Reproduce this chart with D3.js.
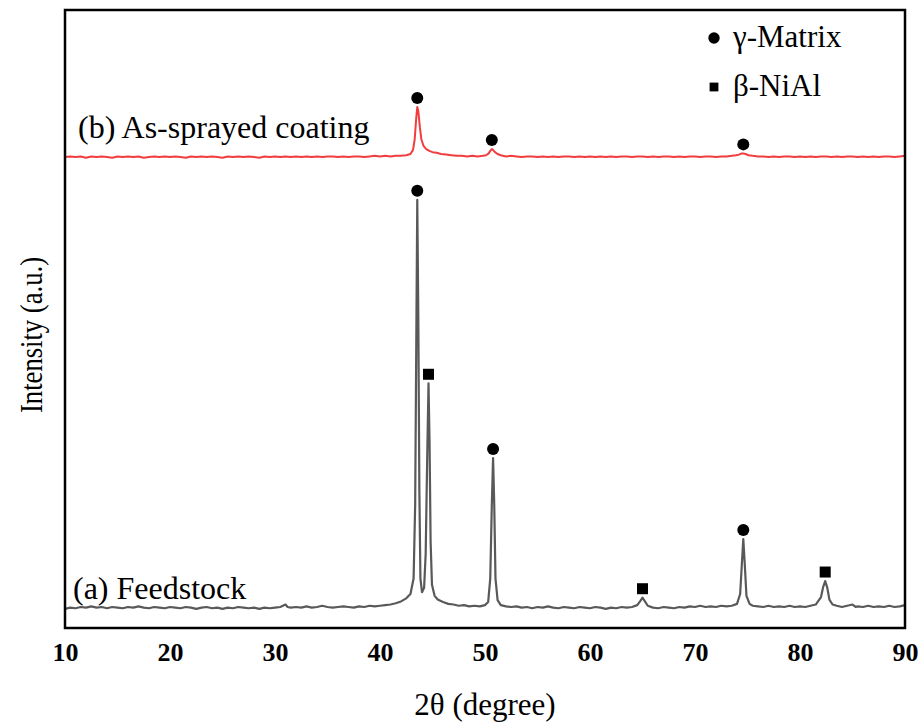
<!DOCTYPE html>
<html>
<head>
<meta charset="utf-8">
<script src="https://cdn.jsdelivr.net/npm/d3@7"></script>
<style>
  body { margin: 0; background: #fff; }
  svg text { font-family: "Liberation Serif", "Times New Roman", serif; fill: #000; }
</style>
</head>
<body>
<svg width="922" height="722"></svg>
<script>
// feedstock pattern, [2theta, intensity]
const feedstock = [
  [10,3.1],[10.5,3.3],[11,3.2],[11.5,3.4],[12,3.3],[12.5,3.5],[13,3.3],[13.5,3.4],[14,3.2],[14.5,3.4],
  [15,3.3],[15.5,3.2],[16,3.4],[16.5,3.3],[17,3.5],[17.5,3.3],[18,3.2],[18.5,3.4],[19,3.3],[19.5,3.2],
  [20,3.4],[20.5,3.3],[21,3.2],[21.5,3.4],[22,3.3],[22.5,3.1],[23,3.3],[23.5,3.4],[24,3.2],[24.5,3.3],
  [25,3.1],[25.5,3.3],[26,3.2],[26.5,3.4],[27,3.3],[27.5,3.2],[28,3.3],[28.5,3.1],[29,3.3],[29.5,3.2],
  [30,3.3],[30.5,3.4],[31,3.8],[31.2,3.4],[31.5,3.3],[32,3.4],[32.5,3.3],[33,3.5],[33.5,3.3],[34,3.4],
  [34.5,3.6],[35,3.4],[35.5,3.3],[36,3.4],[36.5,3.5],[37,3.4],[37.5,3.3],[38,3.5],[38.5,3.4],[39,3.6],
  [39.5,3.5],[40,3.6],[40.5,3.7],[41,3.8],[41.5,4.0],[42,4.3],[42.5,4.8],[42.9,5.5],[43.2,8],[43.35,20],
  [43.45,45],[43.55,69.3],[43.65,50],[43.75,22],[43.85,8],[44.0,5.8],[44.2,6.5],[44.35,12],[44.5,28],[44.62,39.6],
  [44.72,30],[44.82,14],[44.95,7],[45.2,5.2],[45.5,4.6],[46,4.2],[46.5,3.9],[47,3.8],[47.5,3.6],[48,3.7],
  [48.5,3.5],[49,3.6],[49.5,3.5],[50,3.7],[50.3,4.2],[50.5,8],[50.65,20],[50.77,27.5],[50.88,20],[51.0,8],
  [51.2,4.5],[51.5,3.7],[52,3.5],[52.5,3.4],[53,3.5],[53.5,3.3],[54,3.4],[54.5,3.2],[55,3.4],[55.5,3.3],
  [56,3.5],[56.5,3.3],[57,3.2],[57.5,3.4],[58,3.3],[58.5,3.2],[59,3.4],[59.5,3.3],[60,3.2],[60.5,3.4],
  [61,3.3],[61.5,3.1],[62,3.3],[62.5,3.2],[63,3.4],[63.5,3.3],[64,3.4],[64.5,3.7],[64.8,4.4],[65.0,4.9],
  [65.2,4.4],[65.5,3.6],[66,3.3],[66.5,3.2],[67,3.4],[67.5,3.3],[68,3.2],[68.5,3.4],[69,3.3],[69.5,3.5],
  [70,3.4],[70.5,3.6],[71,3.4],[71.5,3.5],[72,3.4],[72.5,3.6],[73,3.5],[73.5,3.6],[74,3.9],[74.3,5.5],
  [74.45,10],[74.6,14.4],[74.75,10],[74.9,5.2],[75.2,3.9],[75.5,3.6],[76,3.5],[76.5,3.4],[77,3.6],[77.5,3.4],
  [78,3.5],[78.5,3.4],[79,3.6],[79.5,3.4],[80,3.5],[80.5,3.4],[81,3.6],[81.5,3.8],[82,5.0],[82.2,6.6],
  [82.4,7.6],[82.6,6.5],[82.8,4.6],[83.1,3.8],[83.5,3.6],[84,3.4],[84.5,3.6],[85,3.8],[85.3,3.4],[85.5,3.5],
  [86,3.4],[86.5,3.6],[87,3.4],[87.5,3.5],[88,3.4],[88.5,3.6],[89,3.4],[89.5,3.5],[90,3.7]
];

// as-sprayed coating pattern, [2theta, intensity]
const coating = [
  [10,3.2],[10.5,3.3],[11,3.2],[11.5,3.3],[12,3.1],[12.5,3.3],[13,3.2],[13.5,3.3],[14,3.2],[14.5,3.1],
  [15,3.3],[15.5,3.2],[16,3.3],[16.5,3.2],[17,3.3],[17.5,3.1],[18,3.2],[18.5,3.3],[19,3.2],[19.5,3.3],
  [20,3.2],[20.5,3.3],[21,3.2],[21.5,3.1],[22,3.3],[22.5,3.2],[23,3.3],[23.5,3.2],[24,3.3],[24.5,3.2],
  [25,3.1],[25.5,3.3],[26,3.2],[26.5,3.3],[27,3.2],[27.5,3.3],[28,3.2],[28.5,3.1],[29,3.3],[29.5,3.2],
  [30,3.3],[30.5,3.2],[31,3.3],[31.5,3.2],[32,3.3],[32.5,3.2],[33,3.3],[33.5,3.2],[34,3.3],[34.5,3.2],
  [35,3.3],[35.5,3.3],[36,3.2],[36.5,3.3],[37,3.2],[37.5,3.3],[38,3.3],[38.5,3.2],[39,3.3],[39.5,3.4],
  [40,3.3],[40.5,3.4],[41,3.3],[41.5,3.4],[42,3.4],[42.5,3.5],[42.9,3.7],[43.15,4.4],[43.3,6.0],[43.45,9.5],
  [43.55,11.3],[43.65,10.6],[43.8,8.0],[43.95,6.0],[44.15,5.0],[44.4,4.5],[44.7,4.2],[45.0,4.0],[45.4,3.9],[45.8,3.7],
  [46.3,3.6],[46.8,3.5],[47.3,3.4],[47.8,3.4],[48.3,3.3],[48.8,3.4],[49.3,3.3],[49.8,3.4],[50.1,3.5],[50.35,3.8],
  [50.5,4.2],[50.65,4.5],[50.8,4.3],[50.95,4.0],[51.2,3.7],[51.5,3.5],[52,3.3],[52.5,3.4],[53,3.3],[53.5,3.2],
  [54,3.3],[54.5,3.3],[55,3.2],[55.5,3.3],[56,3.2],[56.5,3.3],[57,3.2],[57.5,3.3],[58,3.3],[58.5,3.2],
  [59,3.3],[59.5,3.2],[60,3.3],[60.5,3.2],[61,3.3],[61.5,3.2],[62,3.3],[62.5,3.2],[63,3.3],[63.5,3.3],
  [64,3.2],[64.5,3.3],[65,3.3],[65.5,3.2],[66,3.3],[66.5,3.2],[67,3.3],[67.5,3.3],[68,3.2],[68.5,3.3],
  [69,3.2],[69.5,3.3],[70,3.3],[70.5,3.2],[71,3.3],[71.5,3.3],[72,3.2],[72.5,3.3],[73,3.3],[73.5,3.4],
  [73.9,3.5],[74.2,3.6],[74.45,3.8],[74.6,3.8],[74.8,3.7],[75.1,3.5],[75.5,3.4],[76,3.3],[76.5,3.3],[77,3.2],
  [77.5,3.3],[78,3.2],[78.5,3.3],[79,3.3],[79.5,3.2],[80,3.3],[80.5,3.2],[81,3.3],[81.5,3.2],[82,3.3],
  [82.5,3.3],[83,3.2],[83.5,3.3],[84,3.2],[84.5,3.3],[85,3.3],[85.5,3.2],[86,3.3],[86.5,3.2],[87,3.3],
  [87.5,3.2],[88,3.3],[88.5,3.3],[89,3.2],[89.5,3.3],[90,3.4]
];
const coatingOffset = 73;

// phase markers: [series, 2theta, phase]
const peakMarks = [
  ["feedstock", 43.55, "gamma"], ["feedstock", 44.62, "beta"], ["feedstock", 50.77, "gamma"],
  ["feedstock", 65.0, "beta"], ["feedstock", 74.6, "gamma"], ["feedstock", 82.4, "beta"],
  ["coating", 43.55, "gamma"], ["coating", 50.65, "gamma"], ["coating", 74.6, "gamma"]
];

const xTicks = [10, 20, 30, 40, 50, 60, 70, 80, 90];
const legendItems = [["gamma", "γ-Matrix"], ["beta", "β-NiAl"]];

const svg = d3.select("svg");
const margin = {top: 10, right: 17, bottom: 94, left: 65};
const width = 922 - margin.left - margin.right;
const height = 722 - margin.top - margin.bottom;

const x = d3.scaleLinear().domain([10, 90]).range([margin.left, margin.left + width]);
const y = d3.scaleLinear().domain([0, 100]).range([margin.top + height, margin.top]);

const g = svg.append("g");

const line = offset => d3.line()
  .x(d => x(d[0]))
  .y(d => y(d[1] + offset));

g.append("path")
  .datum(feedstock)
  .attr("fill", "none")
  .attr("stroke", "#595959")
  .attr("stroke-width", 2.2)
  .attr("stroke-linejoin", "round")
  .attr("d", line(0));

g.append("path")
  .datum(coating)
  .attr("fill", "none")
  .attr("stroke", "#f23d3f")
  .attr("stroke-width", 2)
  .attr("stroke-linejoin", "round")
  .attr("d", line(coatingOffset));

// markers sit a few pixels above the peak top
const series = {feedstock: [feedstock, 0], coating: [coating, coatingOffset]};
const markY = m => {
  const [data, off] = series[m[0]];
  const pt = data.reduce((a, b) => Math.abs(b[0] - m[1]) < Math.abs(a[0] - m[1]) ? b : a);
  return y(pt[1] + off) - 9;
};

const drawMark = (sel, phase, cx, cy, scale) => {
  if (phase === "gamma") {
    sel.append("circle").attr("cx", cx).attr("cy", cy).attr("r", 6 * scale).attr("fill", "#000");
  } else {
    const s = 11 * scale;
    sel.append("rect").attr("x", cx - s / 2).attr("y", cy - s / 2)
      .attr("width", s).attr("height", s).attr("fill", "#000");
  }
};

peakMarks.forEach(m => drawMark(g, m[2], x(m[1]), markY(m), 1));

// frame
svg.append("rect")
  .attr("x", margin.left)
  .attr("y", margin.top)
  .attr("width", width)
  .attr("height", height)
  .attr("fill", "none")
  .attr("stroke", "#000")
  .attr("stroke-width", 2.5);

// x axis labels
const xAxis = svg.append("g")
  .attr("transform", `translate(0,${margin.top + height})`)
  .call(d3.axisBottom(x).tickValues(xTicks).tickSize(0).tickPadding(15).tickFormat(d3.format("d")));
xAxis.select(".domain").remove();
xAxis.selectAll("text")
  .style("font-family", '"Liberation Serif", "Times New Roman", serif')
  .style("font-size", "26px")
  .style("font-weight", "bold")
  .attr("fill", "#000");

svg.append("text")
  .attr("x", margin.left + width / 2)
  .attr("y", 715)
  .attr("text-anchor", "middle")
  .style("font-size", "31px")
  .text("2θ (degree)");

svg.append("text")
  .attr("transform", "translate(42,335) rotate(-90)")
  .attr("text-anchor", "middle")
  .attr("textLength", 156)
  .attr("lengthAdjust", "spacingAndGlyphs")
  .style("font-size", "32px")
  .text("Intensity (a.u.)");

// series labels
svg.append("text").attr("x", 78).attr("y", 138).style("font-size", "32px").text("(b) As-sprayed coating");
svg.append("text").attr("x", 73).attr("y", 599).style("font-size", "32px").text("(a) Feedstock");

// legend
legendItems.forEach((d, i) => {
  const ly = 38 + i * 49;
  drawMark(svg, d[0], 714, ly, d[0] === "gamma" ? 0.95 : 0.8);
  svg.append("text").attr("x", 733).attr("y", ly + 9).style("font-size", "31px").text(d[1]);
});
</script>
</body>
</html>
